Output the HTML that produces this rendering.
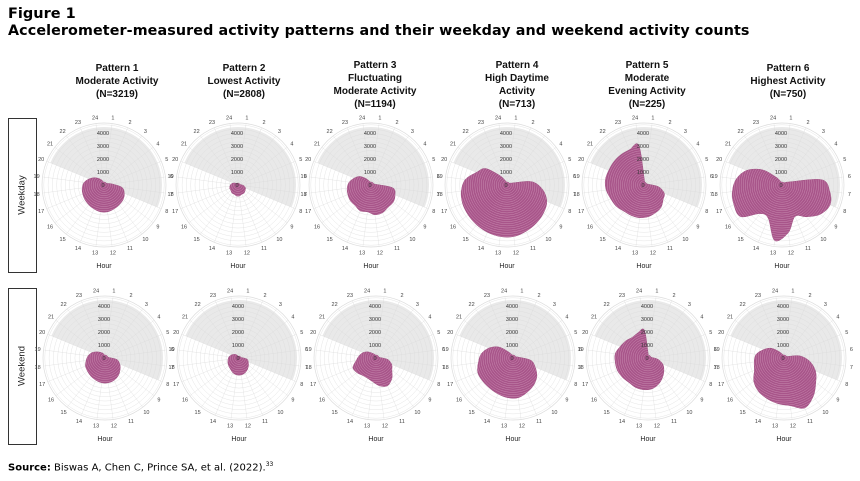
<!DOCTYPE html>
<html><head><meta charset="utf-8"><style>
html,body{margin:0;padding:0;background:#fff;width:860px;height:481px;overflow:hidden}
#wrap{position:relative;width:860px;height:481px}
.h{position:absolute;left:8px;font-family:"DejaVu Sans","Liberation Sans",sans-serif;font-weight:bold;color:#000;white-space:nowrap}
#src{position:absolute;left:8px;top:461px;font-family:"DejaVu Sans","Liberation Sans",sans-serif;font-size:10px;color:#000;white-space:nowrap}
svg{position:absolute;left:0;top:0}
</style></head><body><div id="wrap">
<div class="h" style="top:6px;font-size:14.5px">Figure 1</div>
<div class="h" style="top:23px;font-size:14.3px;letter-spacing:0.1px">Accelerometer-measured activity patterns and their weekday and weekend activity counts</div>
<svg id="chart" width="860" height="481" viewBox="0 0 860 481"></svg>
<div id="src"><b>Source:</b> Biswas A, Chen C, Prince SA, et al. (2022).<sup style="font-size:6px">33</sup></div>
</div>
<script>
const patternTitles = [
 ["Pattern 1","Moderate Activity","(N=3219)"],
 ["Pattern 2","Lowest Activity","(N=2808)"],
 ["Pattern 3","Fluctuating","Moderate Activity","(N=1194)"],
 ["Pattern 4","High Daytime","Activity","(N=713)"],
 ["Pattern 5","Moderate","Evening Activity","(N=225)"],
 ["Pattern 6","Highest Activity","(N=750)"]
];
const hourLabels = [1,2,3,4,5,6,7,8,9,10,11,12,13,14,15,16,17,18,19,20,21,22,23,24];
const radialTicks = [0,1000,2000,3000,4000];
const rowLabels = ["Weekday","Weekend"];
// activity counts by hour label 1..24
const weekdayP1 = [230,230,230,230,310,620,1390,1690,1850,1920,2000,2080,2080,2000,1920,1850,1770,1690,1540,1230,920,620,390,230];
const weekdayP2 = [150,150,150,150,150,230,460,620,690,770,770,850,850,770,770,690,690,620,540,390,230,150,150,150];
const weekdayP3 = [230,230,230,230,230,390,1690,2000,2160,2160,2310,2310,2080,2160,2000,2000,1920,1850,1690,1390,1080,620,310,230];
const weekdayP4 = [230,230,230,230,390,1920,2770,3310,3540,3700,3850,4000,4000,3930,3850,3770,3700,3540,3230,2540,2080,920,390,230];
const weekdayP5 = [310,230,230,230,230,390,1150,1690,1850,2160,2310,2460,2540,2540,2540,2690,2770,2930,3000,2930,2930,2930,2930,3080];
const weekdayP6 = [230,230,230,310,620,3080,3700,4000,3700,3080,2620,3700,4310,2770,2770,4000,4000,3850,3540,2930,1920,770,310,230];
const weekendP1 = [230,230,230,230,230,310,920,1230,1460,1690,1850,1920,1920,1850,1770,1690,1620,1460,1310,1080,770,540,390,230];
const weekendP2 = [150,150,150,150,150,230,620,770,920,1080,1230,1310,1310,1230,1080,1000,920,850,770,620,460,310,150,150];
const weekendP3 = [230,230,230,230,230,310,920,1310,1540,2000,2310,2160,1850,1690,1690,1850,1920,1540,1310,1080,770,460,310,230];
const weekendP4 = [230,230,230,230,230,460,1390,1850,2310,2620,2850,3080,3080,3000,2930,2930,2930,2690,2460,2000,1390,620,310,230];
const weekendP5 = [230,230,230,230,230,310,770,1230,1540,1850,2160,2390,2460,2460,2390,2460,2540,2540,2540,2310,2160,2000,2080,2160];
const weekendP6 = [230,230,230,230,310,1230,2000,2620,3080,3700,4160,3700,3540,3390,3230,2930,2460,2310,2160,1690,1230,620,310,230];
const seriesRows = [
 [weekdayP1,weekdayP2,weekdayP3,weekdayP4,weekdayP5,weekdayP6],
 [weekendP1,weekendP2,weekendP3,weekendP4,weekendP5,weekendP6]
];

const NS="http://www.w3.org/2000/svg";
const svg=document.getElementById('chart');
function mk(tag,attrs,parent){const e=document.createElementNS(NS,tag);for(const k in attrs)e.setAttribute(k,attrs[k]);(parent||svg).appendChild(e);return e;}
const colX=[[104,238,371,507,644,782],[105,239,376,513,648,784]];
const rowY=[185,358];
const titleX=[117,244,375,517,647,788];
const rScale=13/1000;
const OUT=62;
function ang(k){return ((k-0.5)*15-90)*Math.PI/180;}
function rad(v){return v*rScale;}

patternTitles.forEach((lines,i)=>{
  const n=lines.length;const y0= n===3?67:64;
  lines.forEach((t,j)=>{
    const tx=mk('text',{x:titleX[i],y:y0+j*13+4,'text-anchor':'middle','font-family':'"Liberation Sans",Arial,sans-serif','font-size':'10','font-weight':'bold',fill:'#111'});
    
    
    tx.textContent=t;
  });
});
rowLabels.forEach((t,r)=>{
  const y0=r===0?118:288,h=r===0?154:156;
  const b=mk('rect',{x:8.5,y:y0+0.5,width:28,height:h,fill:'#fff',stroke:'#333','stroke-width':1});
  
  
  const cy=y0+h/2;
  const tx=mk('text',{x:22,y:cy,'text-anchor':'middle','dominant-baseline':'middle',transform:`rotate(-90 22 ${cy})`,'font-family':'"Liberation Sans",Arial,sans-serif','font-size':'9.5',fill:'#222'});
  
  
  tx.textContent=t;
});

function smoothPath(cx,cy,vals){
  const pts=vals.map((v,i)=>{const a=ang(hourLabels[i]);const r=rad(v);return [cx+r*Math.cos(a),cy+r*Math.sin(a)];});
  const n=pts.length;let d=`M${pts[0][0].toFixed(2)},${pts[0][1].toFixed(2)}`;
  for(let i=0;i<n;i++){
    const p0=pts[(i-1+n)%n],p1=pts[i],p2=pts[(i+1)%n],p3=pts[(i+2)%n];
    const c1=[p1[0]+(p2[0]-p0[0])/6,p1[1]+(p2[1]-p0[1])/6];
    const c2=[p2[0]-(p3[0]-p1[0])/6,p2[1]-(p3[1]-p1[1])/6];
    d+=` C${c1[0].toFixed(2)},${c1[1].toFixed(2)} ${c2[0].toFixed(2)},${c2[1].toFixed(2)} ${p2[0].toFixed(2)},${p2[1].toFixed(2)}`;
  }
  return d+'Z';
}

let clipId=0;
seriesRows.forEach((row,r)=>{
  row.forEach((vals,c)=>{
    const cx=colX[r][c],cy=rowY[r];
    const g=mk('g',{});
    
    
    mk('circle',{cx,cy,r:OUT,fill:'#fff',stroke:'#dcdcdc','stroke-width':0.7},g);
    const a1=ang(20),a2=ang(8);
    const R=58;
    const sec=mk('path',{d:`M${cx},${cy} L${cx+R*Math.cos(a1)},${cy+R*Math.sin(a1)} A${R},${R} 0 0 1 ${cx+R*Math.cos(a2)},${cy+R*Math.sin(a2)} Z`,fill:'#e9e9e9'},g);
    
    
    for(let rr=4.3;rr<OUT;rr+=4.3){mk('circle',{cx,cy,r:rr,fill:'none',stroke:'#dadada','stroke-width':0.35},g);}
    hourLabels.forEach(k=>{const a=ang(k);mk('line',{x1:cx,y1:cy,x2:cx+OUT*Math.cos(a),y2:cy+OUT*Math.sin(a),stroke:'#dadada','stroke-width':0.35},g);});
    const id='cl'+(clipId++);
    const cp=mk('clipPath',{id},g);
    const d=smoothPath(cx,cy,vals);
    mk('path',{d},cp);
    const shape=mk('path',{d,fill:'#a8558a',stroke:'#9a4a7c','stroke-width':0.5},g);
    
    
    const rg=mk('g',{'clip-path':`url(#${id})`},g);
    for(let rr=2.15;rr<OUT;rr+=2.15){mk('circle',{cx,cy,r:rr,fill:'none',stroke:'#c98bb0','stroke-width':0.5},rg);}
    radialTicks.forEach(t=>{
      const tx=mk('text',{x:cx-1,y:cy-rad(t)+2,'text-anchor':'middle','font-family':'"Liberation Sans",Arial,sans-serif','font-size':'5.5',fill:'#333'},g);
      
      
      tx.textContent=t;
    });
    hourLabels.forEach(k=>{
      const a=ang(k);const lr=OUT+6;
      const tx=mk('text',{x:cx+lr*Math.cos(a),y:cy+lr*Math.sin(a)+2,'text-anchor':'middle','font-family':'"Liberation Sans",Arial,sans-serif','font-size':'5.5',fill:'#444'},g);
      
      
      tx.textContent=k;
    });
    const ht=mk('text',{x:cx,y:r===0?268:441,'text-anchor':'middle','font-family':'"Liberation Sans",Arial,sans-serif','font-size':'7',fill:'#222'},g);
    
    
    ht.textContent='Hour';
  });
});
</script></body></html>
